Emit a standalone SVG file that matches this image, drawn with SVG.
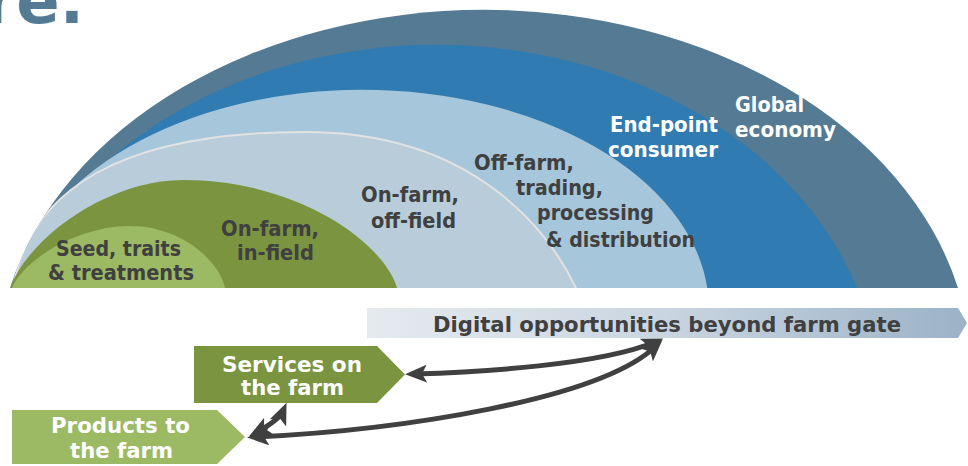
<svg xmlns="http://www.w3.org/2000/svg" width="968" height="466" viewBox="0 0 968 466">
  <style>
    .lbl { font-family: 'DejaVu Sans', Verdana, sans-serif; font-weight: 700; font-size: 21px; }
    .dark { fill: #404040; }
    .light { fill: #ffffff; }
    .conn { fill: none; stroke: #404040; stroke-width: 5; marker-start: url(#head); marker-end: url(#head); }
  </style>
  <defs>
    <clipPath id="dome">
      <path d="M10,288 A487,361 0 0 1 958,288 Z"/>
    </clipPath>
    <linearGradient id="bannerFill" x1="0" y1="0" x2="1" y2="0">
      <stop offset="0" stop-color="#E6EAF0"/>
      <stop offset="0.5" stop-color="#C9D5E0"/>
      <stop offset="1" stop-color="#9CB2C7"/>
    </linearGradient>
    <marker id="head" viewBox="0 0 22 18" markerUnits="userSpaceOnUse" markerWidth="22" markerHeight="18" refX="13" refY="9" orient="auto-start-reverse">
      <path d="M0,0 L22,9 L0,18 L5,9 Z" fill="#404040"/>
    </marker>
  </defs>

  <!-- page title fragment -->
  <text x="84" y="23" text-anchor="end" font-family="'DejaVu Sans', Verdana, sans-serif" font-weight="700" font-size="64" fill="#557A93">re.</text>

  <!-- value-chain layers, outermost first -->
  <g id="global-economy">
    <path d="M10,288 A487,361 0 0 1 958,288 Z" fill="#557A93"/>
    <text class="lbl light" x="735" y="112" textLength="69" lengthAdjust="spacingAndGlyphs">Global</text>
    <text class="lbl light" x="735" y="137" textLength="101" lengthAdjust="spacingAndGlyphs">economy</text>
  </g>
  <g clip-path="url(#dome)">
    <g id="end-point-consumer">
      <path d="M15,288 A443.6,355 0 0 1 857,288 Z" fill="#2F7BB2"/>
    </g>
    <g id="off-farm-trading">
      <path d="M16.7,288 A347,220 0 0 1 707.3,288 Z" fill="#A6C6DC"/>
    </g>
    <g id="on-farm-off-field">
      <path d="M13,288 C30,190 120,132 305,132 C480,132 552,238 576,288" fill="#B8CDD9" stroke="#E2E2E2" stroke-width="2"/>
    </g>
    <g id="on-farm-in-field">
      <path d="M10,288 C30,235 110,180 183,180 C301,180 385,245 397,288 Z" fill="#7A9440"/>
    </g>
    <g id="seed-traits">
      <path d="M12,288 C22,262 75,226 130,226 C182,226 220,262 225,288 Z" fill="#9CB963"/>
    </g>
  </g>

  <!-- layer labels -->
  <g id="layer-labels">
    <text class="lbl light" x="610" y="132" textLength="108" lengthAdjust="spacingAndGlyphs">End-point</text>
    <text class="lbl light" x="608" y="157" textLength="110" lengthAdjust="spacingAndGlyphs">consumer</text>
    <text class="lbl dark" x="474" y="170" textLength="100" lengthAdjust="spacingAndGlyphs">Off-farm,</text>
    <text class="lbl dark" x="516" y="195" textLength="87" lengthAdjust="spacingAndGlyphs">trading,</text>
    <text class="lbl dark" x="537" y="220" textLength="117" lengthAdjust="spacingAndGlyphs">processing</text>
    <text class="lbl dark" x="546" y="247" textLength="149" lengthAdjust="spacingAndGlyphs">&amp; distribution</text>
    <text class="lbl dark" x="361" y="202" textLength="98" lengthAdjust="spacingAndGlyphs">On-farm,</text>
    <text class="lbl dark" x="371" y="228" textLength="85" lengthAdjust="spacingAndGlyphs">off-field</text>
    <text class="lbl dark" x="221" y="236" textLength="98" lengthAdjust="spacingAndGlyphs">On-farm,</text>
    <text class="lbl dark" x="237" y="260" textLength="77" lengthAdjust="spacingAndGlyphs">in-field</text>
    <text class="lbl dark" x="56" y="256" textLength="125" lengthAdjust="spacingAndGlyphs">Seed, traits</text>
    <text class="lbl dark" x="48" y="280" textLength="146" lengthAdjust="spacingAndGlyphs">&amp; treatments</text>
  </g>

  <!-- beyond-farm-gate banner -->
  <g id="digital-opportunities">
    <polygon points="367,308 958,308 967,323 958,338 367,338" fill="url(#bannerFill)"/>
    <text class="lbl dark" x="433" y="332" textLength="468" lengthAdjust="spacingAndGlyphs">Digital opportunities beyond farm gate</text>
  </g>

  <g id="services-on-the-farm">
    <polygon points="194,346 377,346 405,374.5 377,403 194,403" fill="#7A9440"/>
    <text class="lbl light" x="222" y="372" textLength="140" lengthAdjust="spacingAndGlyphs">Services on</text>
    <text class="lbl light" x="241" y="395" textLength="103" lengthAdjust="spacingAndGlyphs">the farm</text>
  </g>

  <g id="products-to-the-farm">
    <polygon points="12,410 217,410 245,437 217,464 12,464" fill="#9CB963"/>
    <text class="lbl light" x="51" y="433" textLength="139" lengthAdjust="spacingAndGlyphs">Products to</text>
    <text class="lbl light" x="70" y="458" textLength="103" lengthAdjust="spacingAndGlyphs">the farm</text>
  </g>

  <!-- two-way links -->
  <g id="connectors">
    <path class="conn" d="M414,374 C480,372 600,365 655,342"/>
    <path class="conn" d="M256,437 C400,430 600,400 656,346"/>
    <path class="conn" d="M257,432 C268,426 280,418 283,411"/>
  </g>
</svg>
